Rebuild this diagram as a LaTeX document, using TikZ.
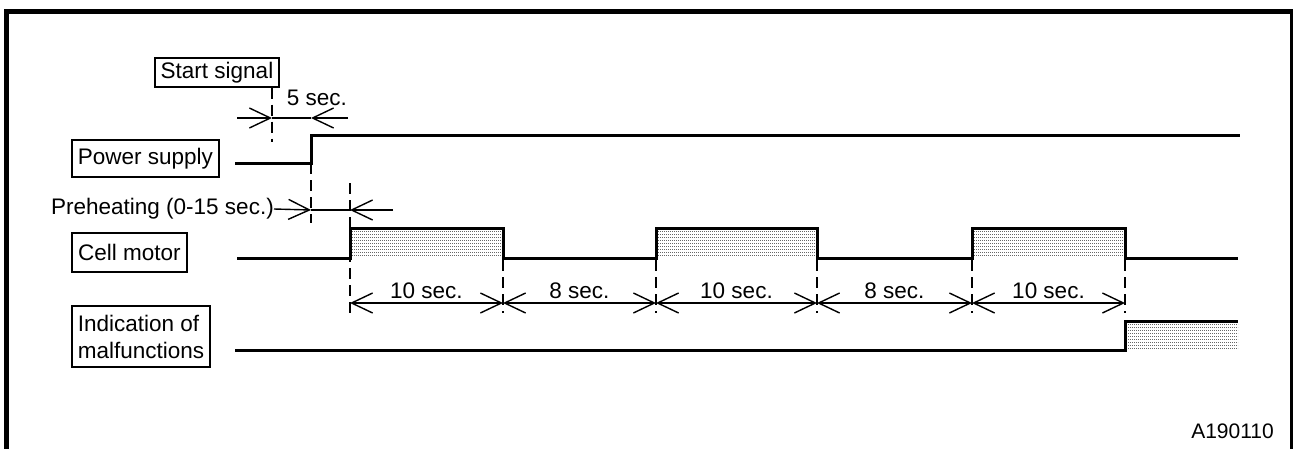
\documentclass[tikz,border=0pt]{standalone}
\usepackage{fontspec}
\setmainfont{Liberation Sans}
\usetikzlibrary{arrows.meta,patterns}
\tikzset{mytip/.tip={Straight Barb[length=21pt,width=20pt]}}
\pgfdeclarepatternformonly{finedots}{\pgfqpoint{0pt}{0pt}}{\pgfqpoint{1.3pt}{1.3pt}}{\pgfqpoint{2pt}{3pt}}{%
  \pgfpathrectangle{\pgfqpoint{0pt}{0pt}}{\pgfqpoint{1.3pt}{1.3pt}}\pgfusepath{fill}}
\begin{document}
\begin{tikzpicture}[x=1pt,y=-1pt,
  lbl/.style={font=\fontsize{22.5}{27}\selectfont, inner sep=0pt},
  sigbox/.style={lbl, draw, line width=1.4pt},
  sig/.style={line width=3pt, line join=miter},
  dim/.style={line width=1.4pt},
  dimarrow/.style={dim, mytip-mytip},
  endarrow/.style={dim, -mytip},
  guide/.style={line width=2pt, dash pattern=on 11pt off 6pt},
  shade/.style={pattern=finedots, pattern color=black!60},
  frame/.style={line width=5pt}
]
\useasboundingbox (0,0) rectangle (1293,448);
% frame
\draw[frame] (6.5,470) -- (6.5,11.5) -- (1292,11.5) -- (1292,470);

% label boxes
\node[sigbox, minimum width=124, minimum height=29] (start) at (217,72.5) {Start signal};
\node[sigbox, minimum width=147, minimum height=37] (power) at (145.5,158.5) {Power supply};
\node[sigbox, minimum width=115, minimum height=39] (cell) at (129.5,252.5) {Cell motor};
\node[sigbox, align=left, minimum width=138, minimum height=61] (indic) at (141,336.5) {Indication of\\malfunctions};

% time coordinates
\coordinate (pL) at (235,163);
\coordinate (pS) at (311,163);
\coordinate (pH) at (311,135);
\coordinate (pE) at (1240,135);

% shaded areas
\fill[shade] (351.5,229.5) rectangle (503,257);
\fill[shade] (657.5,229.5) rectangle (817,257);
\fill[shade] (973.5,229.5) rectangle (1125,257);
\fill[shade] (1126.5,322.5) rectangle (1238,350);

% signals
\draw[sig] (pL) -- (pS) -- (pH) -- (pE);
\draw[sig] (237,258) -- (350,258) -- (350,228) -- (503,228) -- (503,258)
  -- (656,258) -- (656,228) -- (817,228) -- (817,258)
  -- (972,258) -- (972,228) -- (1125,228) -- (1125,258) -- (1238,258);
\draw[sig] (235,350) -- (1125,350) -- (1125,321) -- (1238,321);

% guide lines
\draw[guide] (start.south -| 272,0) -- (272,142);
\draw[guide] (pS) -- (311,223);
\draw[guide] (350,183) -- (350,313);
\foreach \x in {503,656,817,972,1125} \draw[guide] (\x,260) -- (\x,313);

% 5 sec
\coordinate (a5l) at (237,118);
\coordinate (a5a) at (272,118);
\coordinate (a5b) at (311,118);
\coordinate (a5r) at (348,118);
\draw[endarrow] (a5l) -- (a5a);
\draw[dim] (a5a) -- (a5b);
\draw[endarrow] (a5r) -- (a5b);
\node[lbl] (t5) at (317,98) {5 sec.};

% preheating
\node[lbl, anchor=east] (pre) at (274,209) {Preheating (0-15 sec.)};
\coordinate (phA) at (311,210);
\coordinate (phB) at (350,210);
\coordinate (phR) at (393,210);
\draw[endarrow] (pre.east) -- (phA);
\draw[dim] (phA) -- (phB);
\draw[endarrow] (phR) -- (phB);

% cycle dimensions
\coordinate (c0) at (350,303);
\coordinate (c1) at (503,303);
\coordinate (c2) at (656,303);
\coordinate (c3) at (817,303);
\coordinate (c4) at (972,303);
\coordinate (c5) at (1125,303);
\draw[dimarrow] (c0) -- (c1);
\draw[dimarrow] (c1) -- (c2);
\draw[dimarrow] (c2) -- (c3);
\draw[dimarrow] (c3) -- (c4);
\draw[dimarrow] (c4) -- (c5);
\node[lbl] (d1) at (426.5,291) {10 sec.};
\node[lbl] (d2) at (579.5,291) {8 sec.};
\node[lbl] (d3) at (736.5,291) {10 sec.};
\node[lbl] (d4) at (894.5,291) {8 sec.};
\node[lbl] (d5) at (1048.5,291) {10 sec.};

% figure code
\node[lbl, font=\fontsize{21}{25}\selectfont, anchor=east] (code) at (1274,431) {A190110};
\end{tikzpicture}
\end{document}
